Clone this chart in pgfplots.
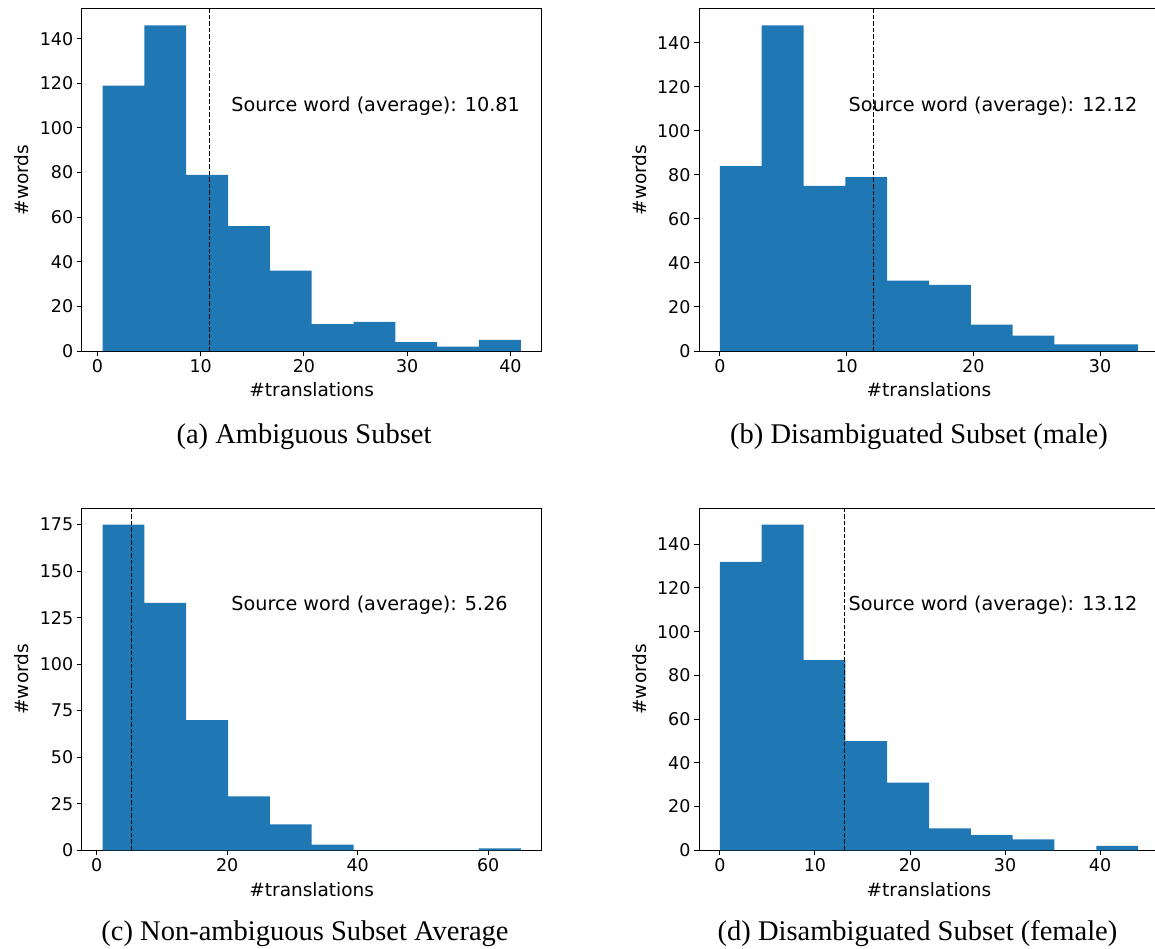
\documentclass[border=0pt]{standalone}
\usepackage{fontspec}
\setmainfont{DejaVu Sans}
\newfontfamily\capfont{Liberation Serif}
\usepackage{pgfplots}
\pgfplotsset{compat=1.18}
\definecolor{mplblue}{HTML}{1F77B4}
\pgfplotsset{
  hist/.style={
    scale only axis, width=460pt, height=342pt, anchor=north west,
    axis line style={line width=1pt, black},
    tick align=outside, tick pos=left,
    major tick length=5pt,
    every tick/.style={line width=1pt, black},
    minor tick num=0,
    ymin=0,
    ticklabel style={font=\fontsize{17.5}{20}\selectfont},
    label style={font=\fontsize{18.5}{22}\selectfont},
    /pgf/number format/assume math mode=true,
    xlabel={\#translations}, ylabel={\#words},
    x label style={at={(axis description cs:0.5,-0.114)}, anchor=center},
    y label style={at={(axis description cs:-0.13,0.5)}, anchor=center},
    scaled ticks=false,
  },
  meanline/.style={black, line width=0.9pt, dash pattern=on 4.5pt off 2pt},
  barstyle/.style={ybar interval, fill=mplblue, draw=none},
}
\tikzset{
  anno/.style={anchor=base west, inner sep=0pt, font=\fontsize{19.2}{22}\selectfont},
  subcap/.style={font=\capfont\fontsize{28.5}{32}\selectfont, anchor=base, inner sep=0pt},
}
\begin{document}
\begin{tikzpicture}
\path[use as bounding box] (0,0) rectangle (1155pt,-949pt);

% (a)
\begin{axis}[hist, at={(81.7pt,-9pt)},
  xmin=-1.525, xmax=43.025, ymax=153.3,
  xtick={0,10,20,30,40}, ytick={0,20,40,60,80,100,120,140}]
\addplot[barstyle] coordinates {(0.5,119) (4.55,146) (8.6,79) (12.65,56) (16.7,36) (20.75,12) (24.8,13) (28.85,4) (32.9,2) (36.95,5) (41,5)};
\addplot[meanline] coordinates {(10.81,0) (10.81,153.3)};
\node[anno] at (rel axis cs:0.325,0.70) {Source word (average): 10.81};
\end{axis}

% (b)
\begin{axis}[hist, at={(699pt,-9pt)},
  xmin=-1.65, xmax=34.65, ymax=155.4,
  xtick={0,10,20,30}, ytick={0,20,40,60,80,100,120,140}]
\addplot[barstyle] coordinates {(0,84) (3.3,148) (6.6,75) (9.9,79) (13.2,32) (16.5,30) (19.8,12) (23.1,7) (26.4,3) (29.7,3) (33,3)};
\addplot[meanline] coordinates {(12.12,0) (12.12,155.4)};
\node[anno] at (rel axis cs:0.325,0.70) {Source word (average): 12.12};
\end{axis}

% (c)
\begin{axis}[hist, at={(81.7pt,-508.3pt)},
  xmin=-2.305, xmax=68.205, ymax=183.75,
  xtick={0,20,40,60}, ytick={0,25,50,75,100,125,150,175}]
\addplot[barstyle] coordinates {(0.9,175) (7.31,133) (13.72,70) (20.13,29) (26.54,14) (32.95,3) (39.36,0) (45.77,0) (52.18,0) (58.59,1) (65,1)};
\addplot[meanline] coordinates {(5.26,0) (5.26,183.75)};
\node[anno] at (rel axis cs:0.325,0.70) {Source word (average): 5.26};
\end{axis}

% (d)
\begin{axis}[hist, at={(699pt,-508.3pt)},
  xmin=-2.2, xmax=46.2, ymax=156.45,
  xtick={0,10,20,30,40}, ytick={0,20,40,60,80,100,120,140}]
\addplot[barstyle] coordinates {(0,132) (4.4,149) (8.8,87) (13.2,50) (17.6,31) (22,10) (26.4,7) (30.8,5) (35.2,0) (39.6,2) (44,2)};
\addplot[meanline] coordinates {(13.12,0) (13.12,156.45)};
\node[anno] at (rel axis cs:0.325,0.70) {Source word (average): 13.12};
\end{axis}

% captions
\node[subcap] at (304pt,-443pt) {(a) Ambiguous Subset};
\node[subcap] at (919pt,-443pt) {(b) Disambiguated Subset (male)};
\node[subcap] at (305pt,-940pt) {(c) Non-ambiguous Subset Average};
\node[subcap] at (917.5pt,-940pt) {(d) Disambiguated Subset (female)};
\end{tikzpicture}
\end{document}
